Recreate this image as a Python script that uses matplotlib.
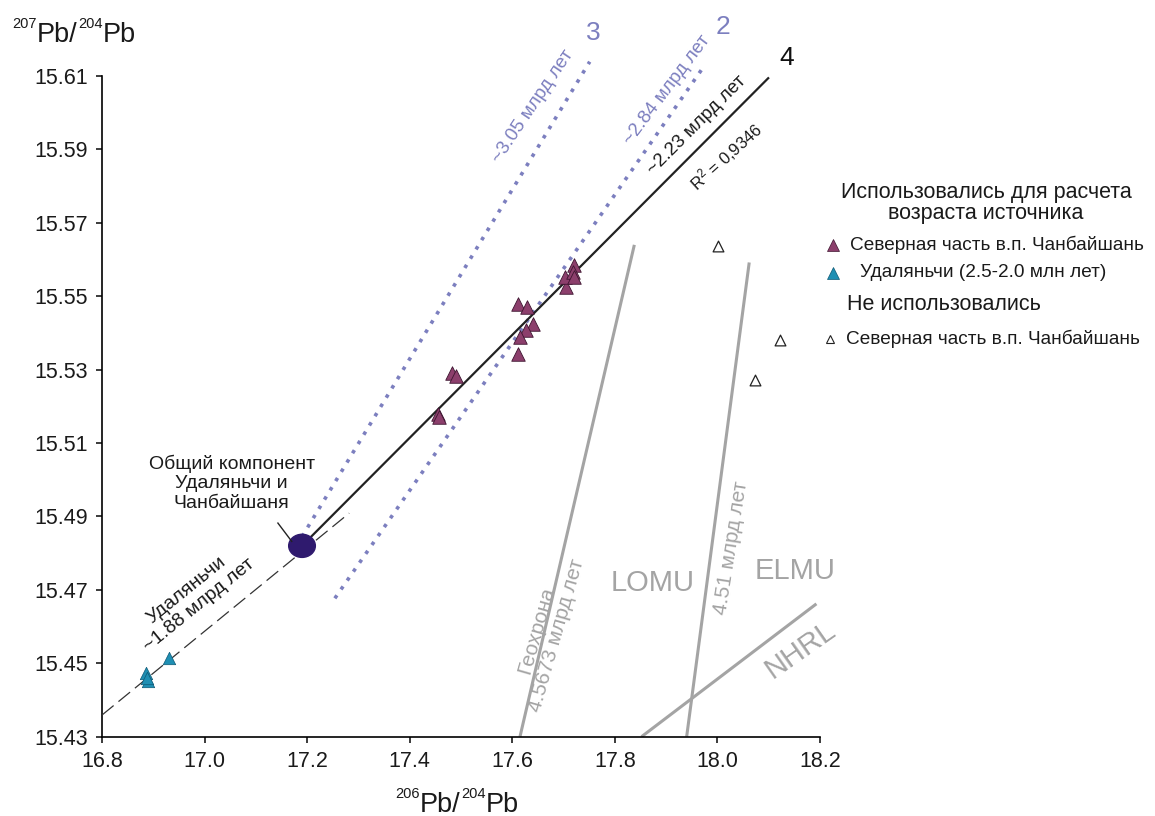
import matplotlib
matplotlib.use("Agg")
import matplotlib.pyplot as plt
from matplotlib.patches import Ellipse
from matplotlib.lines import Line2D

plt.rcParams['font.family'] = ['Liberation Sans', 'DejaVu Sans']
plt.rcParams['mathtext.fontset'] = 'custom'
plt.rcParams['mathtext.rm'] = 'Liberation Sans'
plt.rcParams['mathtext.it'] = 'Liberation Sans:italic'

# ---- data ----
chb_x = [17.455, 17.457, 17.482, 17.490, 17.612, 17.628, 17.640, 17.627, 17.616,
         17.612, 17.704, 17.703, 17.720, 17.719, 17.720]
chb_y = [15.5180, 15.5172, 15.5290, 15.5283, 15.5478, 15.5472, 15.5424, 15.5408, 15.5388,
         15.5342, 15.5526, 15.5553, 15.5585, 15.5567, 15.5553]
udl_x = [16.885, 16.889, 16.887, 16.931]
udl_y = [15.4473, 15.4452, 15.4460, 15.4514]
unused_x = [18.002, 18.122, 18.073]
unused_y = [15.5637, 15.5381, 15.5272]

common_x = 17.19
common_y = 15.482

line4_x = [17.19, 18.099]
line4_y = [15.482, 15.6094]
line3_x = [17.19, 17.751]
line3_y = [15.4845, 15.6139]
line2_x = [17.254, 17.969]
line2_y = [15.4677, 15.6117]
udl_line_x = [16.8, 17.282]
udl_line_y = [15.4359, 15.4909]
geochron_x = [17.615, 17.838]
geochron_y = [15.43, 15.564]
iso451_x = [17.940, 18.062]
iso451_y = [15.43, 15.5592]
nhrl_x = [17.852, 18.193]
nhrl_y = [15.43, 15.4662]

x_ticks = [16.8, 17.0, 17.2, 17.4, 17.6, 17.8, 18.0, 18.2]
y_ticks = [15.43, 15.45, 15.47, 15.49, 15.51, 15.53, 15.55, 15.57, 15.59, 15.61]

# ---- colours ----
purple = '#8c3f6c'
purple_edge = '#3e1530'
blue = '#1f8fb3'
blue_edge = '#0d5875'
dotc = '#7c7fbf'
grayc = '#a4a4a4'
ellc = '#2f1a6e'
txtc = '#1a1a1a'

W, H = 1155, 816
fig = plt.figure(figsize=(W / 100, H / 100), dpi=100)
ax = fig.add_axes([102 / W, 1 - 736.7 / H, (820 - 102) / W, (736.7 - 76) / H])
ax.set_xlim(16.8, 18.2)
ax.set_ylim(15.43, 15.61)
for s in ['top', 'right']:
    ax.spines[s].set_visible(False)
for s in ['left', 'bottom']:
    ax.spines[s].set_linewidth(1.2)
ax.set_xticks(x_ticks)
ax.set_xticklabels([f'{v:.1f}' for v in x_ticks])
ax.set_yticks(y_ticks)
ax.set_yticklabels([f'{v:.2f}' for v in y_ticks])
ax.tick_params(direction='out', length=4, width=1.2, labelsize=15.5, pad=6, colors=txtc)

# gray reference lines
for xs, ys in [(geochron_x, geochron_y), (iso451_x, iso451_y), (nhrl_x, nhrl_y)]:
    ax.plot(xs, ys, color=grayc, lw=2.2, solid_capstyle='butt', zorder=2)

# isochron lines
ax.plot(line3_x, line3_y, color=dotc, lw=2.6, linestyle=(0, (1, 2.0)),
        dash_capstyle='butt', clip_on=False, zorder=3)
ax.plot(line2_x, line2_y, color=dotc, lw=2.6, linestyle=(0, (1, 2.0)),
        dash_capstyle='butt', clip_on=False, zorder=3)
ax.plot(line4_x, line4_y, color='#222222', lw=1.6, clip_on=False, zorder=4)
ax.plot(udl_line_x, udl_line_y, color='#333333', lw=0.9, linestyle=(0, (12, 5)), zorder=3)

# data points
ax.scatter(chb_x, chb_y, marker='^', s=95, facecolor=purple, edgecolor=purple_edge,
           linewidths=0.6, zorder=5)
ax.scatter(udl_x, udl_y, marker='^', s=80, facecolor=blue, edgecolor=blue_edge,
           linewidths=0.5, zorder=5)
ax.scatter(unused_x, unused_y, marker='^', s=60, facecolor='white', edgecolor='#222222',
           linewidths=0.9, zorder=5)

# common component ellipse
ax.add_patch(Ellipse((common_x, common_y), 0.052, 0.0063, facecolor=ellc,
                     edgecolor=ellc, zorder=6))
ax.plot([17.143, 17.170], [15.4882, 15.4832], color='#222222', lw=1.0, zorder=6)

# line labels
ax.text(17.757, 15.6217, '3', color=dotc, fontsize=19, ha='center', va='center', clip_on=False)
ax.text(18.010, 15.6234, '2', color=dotc, fontsize=19, ha='center', va='center', clip_on=False)
ax.text(18.135, 15.6149, '4', color='#111111', fontsize=19, ha='center', va='center', clip_on=False)
ax.text(17.640, 15.6016, '~3.05 млрд лет', color=dotc, fontsize=13.5, rotation=56,
        ha='center', va='center', rotation_mode='anchor', clip_on=False)
ax.text(17.901, 15.6062, '~2.84 млрд лет', color=dotc, fontsize=13.5, rotation=53,
        ha='center', va='center', rotation_mode='anchor', clip_on=False)
ax.text(17.959, 15.5967, '~2.23 млрд лет', color=txtc, fontsize=13.5, rotation=45,
        ha='center', va='center', rotation_mode='anchor', clip_on=False)
ax.text(18.018, 15.5880, r'R$^{2}$ = 0,9346', color=txtc, fontsize=12, rotation=42,
        ha='center', va='center', rotation_mode='anchor', clip_on=False)

ax.text(17.667, 15.4583, 'Геохрона\n4.5673 млрд лет', color=grayc, fontsize=15,
        rotation=74, ha='center', va='center', rotation_mode='anchor',
        multialignment='center', linespacing=1.1)
ax.text(18.027, 15.4813, '4.51 млрд лет', color=grayc, fontsize=15, rotation=81,
        ha='center', va='center', rotation_mode='anchor')
ax.text(17.874, 15.4719, 'LOMU', color=grayc, fontsize=21, ha='center', va='center')
ax.text(18.151, 15.4752, 'ELMU', color=grayc, fontsize=21, ha='center', va='center', clip_on=False)
ax.text(18.161, 15.4536, 'NHRL', color=grayc, fontsize=21, rotation=35,
        ha='center', va='center', rotation_mode='anchor', clip_on=False)

ax.text(17.053, 15.4991, 'Общий компонент\nУдаляньчи и\nЧанбайшаня', color=txtc,
        fontsize=14, ha='center', va='center', multialignment='center')
ax.text(16.977, 15.4678, 'Удаляньчи\n~1.88 млрд лет', color=txtc, fontsize=14,
        rotation=39, ha='center', va='center', rotation_mode='anchor', multialignment='center')

# axis titles built from pieces (small superscripts)
renderer = fig.canvas.get_renderer()


def sup_title(x_px, base_px, parts):
    x = x_px
    for txt, size, rise in parts:
        t = fig.text(x / W, 1 - (base_px - rise) / H, txt, fontsize=size,
                     ha='left', va='baseline', color=txtc)
        bb = t.get_window_extent(renderer=renderer)
        x = bb.x1 + 0.5


title_y = [('207', 10.5, 14), ('Pb/', 19.5, 0), ('204', 10.5, 14), ('Pb', 19.5, 0)]
title_x = [('206', 10.5, 14), ('Pb/', 19.5, 0), ('204', 10.5, 14), ('Pb', 19.5, 0)]
sup_title(12, 42, title_y)
sup_title(395, 812, title_x)

# legend
def fx(px):
    return px / W


def fy(py):
    return 1 - py / H


fig.text(fx(986), fy(203), 'Использовались для расчета\nвозраста источника', fontsize=15.5,
         ha='center', va='center', multialignment='center', color=txtc, linespacing=1.05)
fig.add_artist(Line2D([fx(833)], [fy(245)], marker='^', markersize=9, color=purple,
                      markeredgecolor=purple_edge, markeredgewidth=0.5, transform=fig.transFigure))
fig.text(fx(850), fy(245), 'Северная часть в.п. Чанбайшань', fontsize=13.7, ha='left',
         va='center', color=txtc)
fig.add_artist(Line2D([fx(833)], [fy(273)], marker='^', markersize=9, color=blue,
                      markeredgecolor=blue_edge, markeredgewidth=0.5, transform=fig.transFigure))
fig.text(fx(860), fy(273), 'Удаляньчи (2.5-2.0 млн лет)', fontsize=13.7, ha='left',
         va='center', color=txtc)
fig.text(fx(847), fy(305), 'Не использовались', fontsize=15.5, ha='left', va='center',
         color=txtc)
fig.add_artist(Line2D([fx(830)], [fy(339)], marker='^', markersize=6, color='white',
                      markeredgecolor='#222222', markeredgewidth=0.8, transform=fig.transFigure))
fig.text(fx(846), fy(339), 'Северная часть в.п. Чанбайшань', fontsize=13.7, ha='left',
         va='center', color=txtc)

fig.savefig('out.png', dpi=100, facecolor='white')
